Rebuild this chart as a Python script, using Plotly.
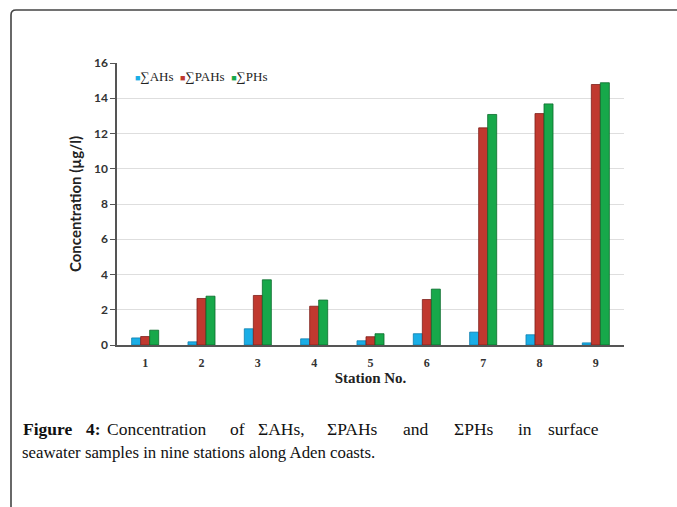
import plotly.graph_objects as go

stations = ["1", "2", "3", "4", "5", "6", "7", "8", "9"]
ahs = [0.40, 0.18, 0.92, 0.35, 0.24, 0.64, 0.73, 0.58, 0.12]
pahs = [0.48, 2.64, 2.81, 2.20, 0.47, 2.58, 12.32, 13.13, 14.78]
phs = [0.84, 2.77, 3.70, 2.55, 0.64, 3.17, 13.08, 13.68, 14.88]
series_names = ["∑AHs", "∑PAHs", "∑PHs"]
y_ticks = [0, 2, 4, 6, 8, 10, 12, 14, 16]

colors = ["#1aaee6", "#c0392f", "#17a84a"]
edges = ["#0e7fae", "#7d1f1a", "#0b6b2c"]

W, H = 677, 507
L, R, T, B = 117, 53, 63, 162
pw, ph = W - L - R, H - T - B


def px(x):
    return (x - L) / pw


def py(y):
    return (H - B - y) / ph


fig = go.Figure()
for name, vals, c, e in zip(series_names, [ahs, pahs, phs], colors, edges):
    fig.add_trace(go.Bar(
        x=stations, y=vals, name=name,
        marker=dict(color=c, line=dict(color=e, width=0.8)),
    ))

fig.update_layout(
    width=W, height=H,
    margin=dict(l=L, r=R, t=T, b=B),
    paper_bgcolor="white", plot_bgcolor="white",
    barmode="group", bargap=0.52, bargroupgap=0,
    showlegend=False,
    xaxis=dict(
        showline=True, linecolor="#555", linewidth=1.5,
        ticks="", ticklabelstandoff=6,
        tickfont=dict(family="Liberation Serif", size=12, color="#333", weight="bold"),
        title=dict(text="Station No.", font=dict(family="Liberation Serif", size=15, color="#222", weight="bold"), standoff=3),
    ),
    yaxis=dict(
        range=[0, 16], tickvals=y_ticks,
        showline=True, linecolor="#555", linewidth=1.5,
        ticks="outside", ticklen=5, tickcolor="#555",
        showgrid=True, gridcolor="#dedede", gridwidth=1,
        tickfont=dict(family="Lato", size=12, color="#333", weight="bold"),
        title=dict(text="Concentration (µg/l)", font=dict(family="Lato", size=15, color="#222", weight="bold"), standoff=9),
        zeroline=False,
    ),
)

# legend drawn as a compact text row, built from the series names and colours
legend_text = "  ".join(
    f"<span style='color:{c};font-size:9px'>■</span>{n}" for n, c in zip(series_names, colors)
)
fig.add_annotation(
    text=legend_text, xref="paper", yref="paper", x=px(133), y=py(76),
    xanchor="left", yanchor="middle", showarrow=False,
    font=dict(family="Liberation Serif", size=13, color="#222"),
)

# frame with rounded top-left corner
r = 5
x0, y0 = 11, 10
path = (f"M {px(x0)},{py(H + 5)} L {px(x0)},{py(y0 + r)} "
        f"Q {px(x0)},{py(y0)} {px(x0 + r)},{py(y0)} L {px(W + 5)},{py(y0)}")
fig.add_shape(type="path", path=path, xref="paper", yref="paper",
              line=dict(color="#444", width=1.6))

cap_font = dict(family="Liberation Serif", size=17.5, color="#111")
line1_words = ["<b>Figure</b>", "<b>4:</b>", "Concentration", "of", "ΣAHs,", "ΣPAHs",
               "and", "ΣPHs", "in", "surface"]
line1_x = [21, 84, 105, 228, 256, 325, 401, 452, 516, 546]
for w, xw in zip(line1_words, line1_x):
    fig.add_annotation(
        text=w, xref="paper", yref="paper", x=px(xw), y=py(429),
        xanchor="left", yanchor="middle", showarrow=False, font=cap_font,
    )
fig.add_annotation(
    text="seawater samples in nine stations along Aden coasts.",
    xref="paper", yref="paper", x=px(20), y=py(452), xanchor="left", yanchor="middle",
    showarrow=False, font=dict(family="Liberation Serif", size=16.8, color="#111"),
)

fig.write_html("out.html", config={"displayModeBar": False},
               post_script="document.body.style.margin='0px';")
